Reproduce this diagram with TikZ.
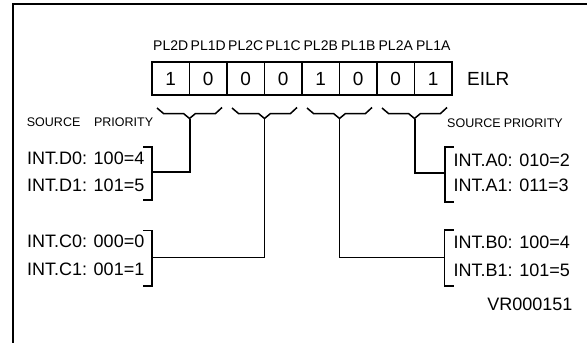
\documentclass[tikz,border=0pt]{standalone}
\usepackage{fontspec}
\setmainfont{Liberation Sans}
\tikzset{
  bitbox/.style={draw, line width=1.4pt, minimum width=37.5pt, minimum height=33pt, inner sep=0pt, font=\fontsize{19}{19}\selectfont},
  pltext/.style={inner sep=0pt, font=\fontsize{14}{14}\selectfont},
  smalltext/.style={inner sep=0pt, font=\fontsize{12.5}{12.5}\selectfont},
  bigtext/.style={inner sep=0pt, font=\fontsize{18}{18}\selectfont},
  boldconn/.style={line width=2pt, line join=miter},
  thinconn/.style={line width=1.2pt, line join=miter},
  braceline/.style={line width=1.5pt, line join=miter},
  brc/.pic={\draw[braceline] (-32.5,-10.5) -- (-26,-5) -- (-6,-5) -- (0,0) -- (6,-5) -- (26,-5) -- (32.5,-11);}
}
\begin{document}
\begin{tikzpicture}[x=1pt,y=-1pt]
\useasboundingbox (0,0) rectangle (587,343);
% frame
\draw[line width=2pt] (12.5,343) -- (12.5,4) -- (587,4);
% register boxes and labels
\foreach \v [count=\i] in {1,0,0,0,1,0,0,1}
  \node[bitbox] (b\i) at ({170.75+37.5*(\i-1)},78.5) {\v};
\foreach \l [count=\i] in {PL2D,PL1D,PL2C,PL1C,PL2B,PL1B,PL2A,PL1A}
  \node[pltext] (p\i) at ({170.75+37.5*(\i-1)},45.5) {\l};
\node[bigtext, anchor=west, font=\fontsize{19}{19}\selectfont] (eilr) at (467,78.5) {EILR};
% brace tips
\coordinate (tD) at (189.5,118.5);
\coordinate (tC) at (264.5,118.5);
\coordinate (tB) at (339.5,118.5);
\coordinate (tA) at (414.5,118.5);
\pic at (tD) {brc};
\pic at (tC) {brc};
\pic at (tB) {brc};
\pic at (tA) {brc};
% headers
\node[smalltext, anchor=west] (srcL) at (26.7,122) {SOURCE};
\node[smalltext, anchor=east] (priL) at (153.3,122) {PRIORITY};
\node[smalltext, anchor=west] (srcR) at (447,123.3) {SOURCE};
\node[smalltext, anchor=east] (priR) at (563,123.3) {PRIORITY};
% source texts
\node[bigtext, anchor=east] (d0) at (144.5,158) {INT.D0: 100=4};
\node[bigtext, anchor=east] (d1) at (144.5,185) {INT.D1: 101=5};
\node[bigtext, anchor=east] (c0) at (144.5,241.7) {INT.C0: 000=0};
\node[bigtext, anchor=east] (c1) at (144.5,269.7) {INT.C1: 001=1};
\node[bigtext, anchor=west] (a0) at (453.5,160.3) {INT.A0: 010=2};
\node[bigtext, anchor=west] (a1) at (453.5,185) {INT.A1: 011=3};
\node[bigtext, anchor=west] (bb0) at (453.5,242) {INT.B0: 100=4};
\node[bigtext, anchor=west] (bb1) at (453.5,270.3) {INT.B1: 101=5};
\node[bigtext, anchor=east] (vr) at (572.7,304.5) {VR000151};
% brackets
\coordinate (kD) at (152,172);
\coordinate (kC) at (152,257.5);
\coordinate (kA) at (444.5,172.5);
\coordinate (kB) at (444.5,257.5);
\draw[boldconn] (143,146.7) -- (152,146.7) -- (152,200) -- (143,200);
\draw[thinconn] (143,230.7) -- (152,230.7) -- (152,286) -- (143,286);
\draw[boldconn] (453.5,146.7) -- (444.5,146.7) -- (444.5,201.7) -- (453.5,201.7);
\draw[thinconn] (453.5,230) -- (444.5,230) -- (444.5,286) -- (453.5,286);
% connectors
\draw[boldconn] (tD) |- (kD);
\draw[thinconn] (tC) |- (kC);
\draw[thinconn] (tB) |- (kB);
\draw[boldconn] (tA) |- (kA);
\end{tikzpicture}
\end{document}
